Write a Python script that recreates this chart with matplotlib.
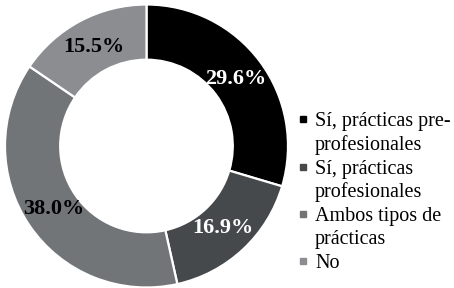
import matplotlib
matplotlib.use('Agg')
import matplotlib.pyplot as plt
from matplotlib.lines import Line2D

# data
labels = ['Sí, prácticas pre-\nprofesionales', 'Sí, prácticas\nprofesionales',
          'Ambos tipos de\nprácticas', 'No']
values = [29.6, 16.9, 38.0, 15.5]
colors = ['#000000', '#46494b', '#727578', '#8b8d90']
text_colors = ['white', 'white', 'black', 'black']

plt.rcParams['font.family'] = ['Liberation Serif', 'DejaVu Serif']

fig = plt.figure(figsize=(4.54, 2.88), dpi=100)
ax = fig.add_axes([5 / 454, 0.5 / 288, 283 / 454, 283 / 288])

wedges, texts, autotexts = ax.pie(
    values, colors=colors, startangle=90, counterclock=False,
    autopct='%1.1f%%', pctdistance=0.79,
    wedgeprops=dict(width=0.39, edgecolor='white', linewidth=1.6))
ax.set_xlim(-1, 1)
ax.set_ylim(-1, 1)

for t, c in zip(autotexts, text_colors):
    t.set_color(c)
    t.set_fontsize(16)
    t.set_fontweight('bold')

handles = [Line2D([], [], marker='s', linestyle='none', markersize=5,
                  markerfacecolor=c, markeredgecolor=c) for c in colors]
leg = fig.legend(handles, labels, loc='upper left', bbox_to_anchor=(297 / 454, 1 - 112 / 288),
                 frameon=False, fontsize=14.5, handlelength=0.6, handletextpad=0.3,
                 labelspacing=0.25, borderpad=0, borderaxespad=0)
for t in leg.get_texts():
    t.set_linespacing(1.25)
# put the square next to the first line of each entry
for col in leg._legend_handle_box.get_children():
    for row in col.get_children():
        row.align = 'top'

fig.savefig('out.png', dpi=100, facecolor='white')
